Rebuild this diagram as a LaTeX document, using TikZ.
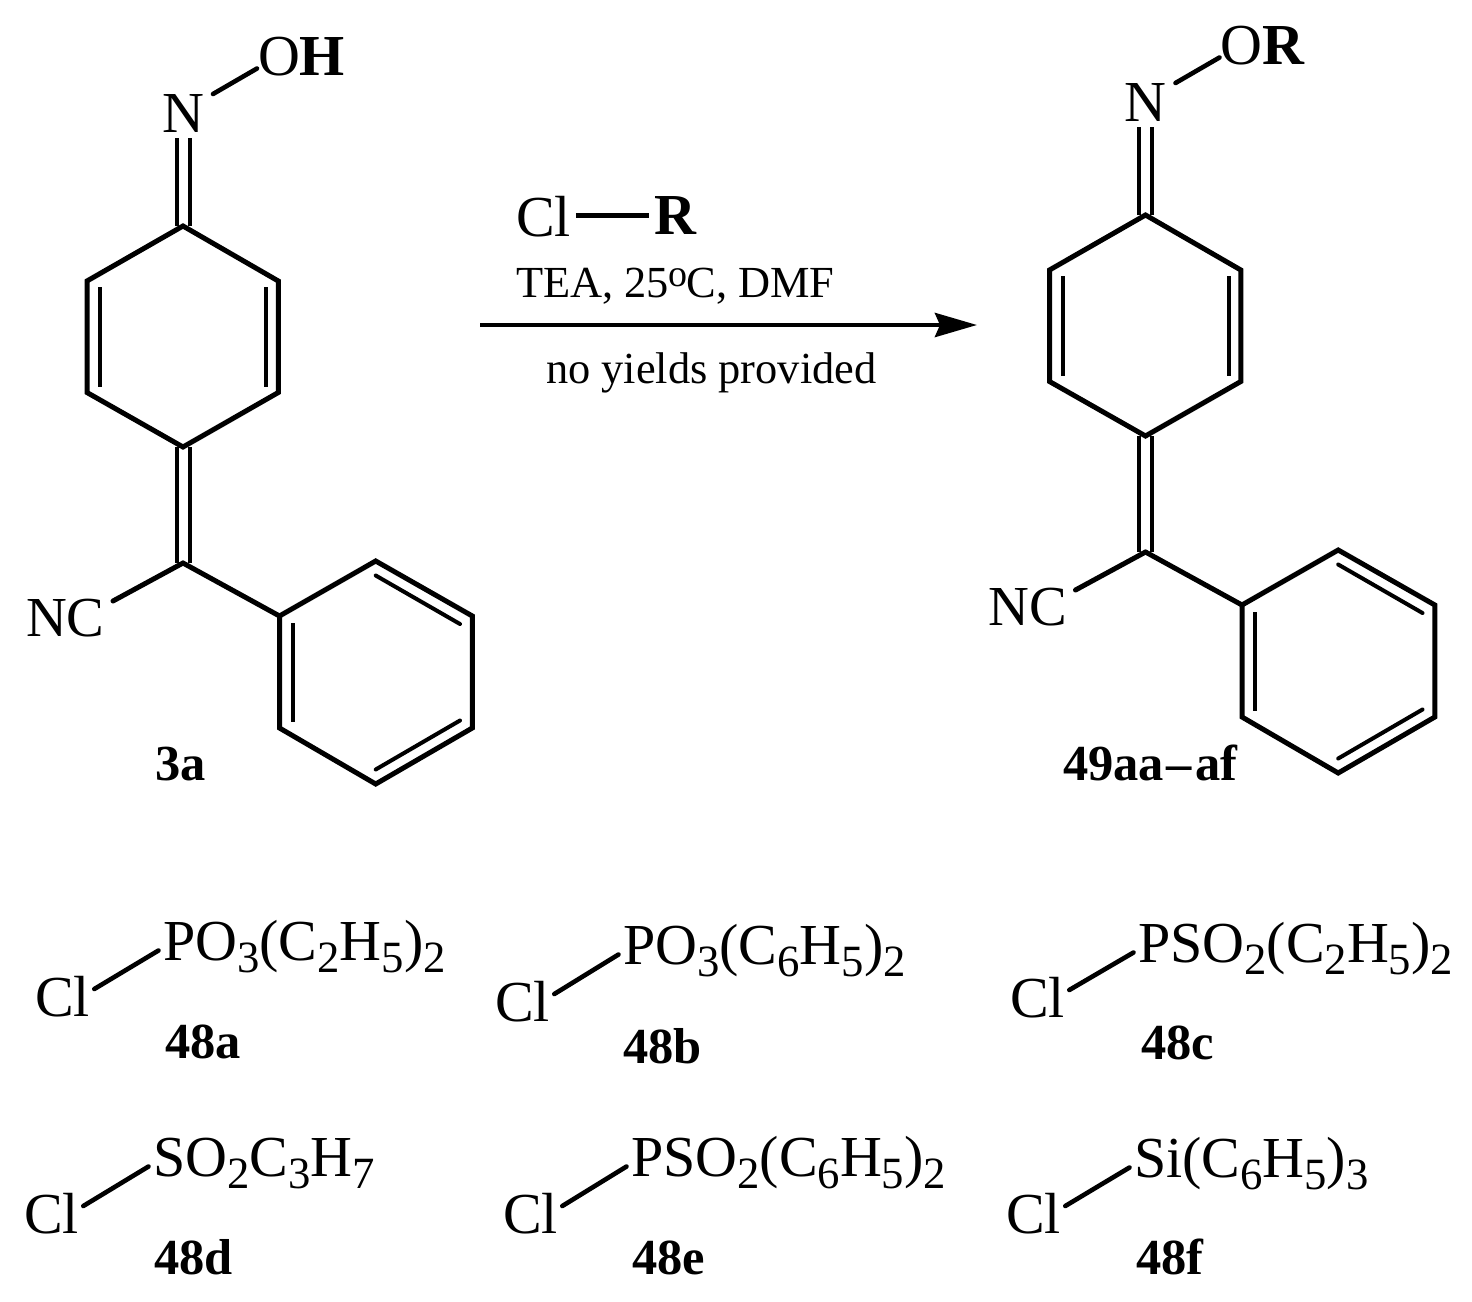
\documentclass[tikz,border=0pt]{standalone}
\usepackage{fontspec}
\setmainfont{Liberation Serif}
\usetikzlibrary{arrows.meta,calc}
\newcommand{\chemfs}{\fontsize{58}{60}\selectfont}
\newcommand{\ncfs}{\fontsize{56.5}{60}\selectfont}
\newcommand{\condfs}{\fontsize{44.4}{50}\selectfont}
\newcommand{\labfs}{\fontsize{50.5}{54}\selectfont\bfseries}
\newcommand{\sbs}[1]{\raisebox{-12pt}{\fontsize{44.7}{46}\selectfont #1}}
\tikzset{
  x=1pt,y=-1pt,
  bond/.style={line width=5pt,line cap=round,line join=miter,black},
  inner bond/.style={line width=4pt,line cap=butt,black},
  atom/.style={inner sep=0pt,outer sep=0pt,anchor=base,font=\chemfs},
  atomb/.style={inner sep=0pt,outer sep=0pt,anchor=base west,font=\chemfs},
  cmpd/.style={inner sep=0pt,outer sep=0pt,anchor=base west,font=\labfs},
  cond/.style={inner sep=0pt,outer sep=0pt,anchor=base west,font=\condfs},
}
\newcommand{\molecule}[4]{% prefix, xshift, yshift, substituent (bold)
\begin{scope}[shift={(#2,#3)},name prefix=#1-]
  \coordinate (a) at (183,226);
  \coordinate (b) at (278.3,281);
  \coordinate (c) at (278.3,392.5);
  \coordinate (d) at (183,447);
  \coordinate (e) at (87,392.5);
  \coordinate (f) at (87,281);
  \coordinate (g) at (183,563);
  \coordinate (p1) at (279.5,616);
  \coordinate (p2) at (375.7,561);
  \coordinate (p3) at (472.3,616);
  \coordinate (p4) at (472.3,728);
  \coordinate (p5) at (375.7,784);
  \coordinate (p6) at (279.5,728);
  \node[atom] (N) at (183,132) {N};
  \node[atomb] (O) at (258,75.5) {O};
  \node[atomb,font=\chemfs\bfseries] (S) at (O.base east) {#4};
  \node[atom,anchor=base east,font=\ncfs] (NC) at (104.5,636.5) {NC};
  \draw[bond] (a)--(b)--(c)--(d)--(e)--(f)--cycle;
  \draw[bond] (p1)--(p2)--(p3)--(p4)--(p5)--(p6)--cycle;
  \draw[bond] (g)--(p1);
  \draw[bond] ([shift={(8.5,-35.5)}]NC.base east)--(g);
  \draw[inner bond] ([shift={(-6.5,0)}]a) -- ([shift={(-6.5,6)}]N.base);
  \draw[inner bond] ([shift={(6.5,0)}]a) -- ([shift={(6.5,6)}]N.base);
  \draw[inner bond] ([shift={(-6.5,0)}]d) -- ([shift={(-6.5,0)}]g);
  \draw[inner bond] ([shift={(6.5,0)}]d) -- ([shift={(6.5,0)}]g);
  \draw[bond,line width=4.6pt] ([shift={(30,-38)}]N.base) -- ([shift={(-1,-7)}]O.base west);
  \draw[inner bond] ([shift={(13,6)}]f) -- ([shift={(13,-6)}]e);
  \draw[inner bond] ([shift={(-12.3,6)}]b) -- ([shift={(-12.3,-6)}]c);
  \draw[inner bond] ([shift={(13.2,7)}]p1) -- ([shift={(13.2,-6)}]p6);
  \draw[inner bond,line cap=round] ([shift={(0,14.5)}]p2) -- ([shift={(-12.3,8)}]p3);
  \draw[inner bond,line cap=round] ([shift={(0,-14.5)}]p5) -- ([shift={(-12.3,-7.5)}]p4);
\end{scope}}
\newcommand{\reagent}[9]{% name, Cl x, Cl y, text x, text y, text, label x, label y, label
\node[atomb] (#1-cl) at (#2,#3) {Cl};
\node[atomb] (#1-f) at (#4,#5) {#6};
\node[cmpd] (#1-n) at (#7,#8) {#9};
\draw[bond,line width=4.6pt] ([shift={(4.5,-27)}]#1-cl.base east) -- ([shift={(-4.5,-9.5)}]#1-f.base west);
}
\begin{document}
\begin{tikzpicture}
\useasboundingbox (0,0) rectangle (1472,1301);
\molecule{L}{0}{0}{H}
\molecule{R}{962.5}{-11}{R}
\node[cmpd] (n3a) at (155,780) {3a};
\node[cmpd] (n49) at (1063,780.5) {49aa\kern3pt–\kern3pt af};
\node[atomb] (rcl) at (516,236.5) {Cl};
\node[atomb,font=\chemfs\bfseries] (rr) at (654,234) {R};
\coordinate (rs) at ([shift={(5,-21)}]rcl.base east);
\draw[bond,line width=4.4pt,line cap=butt] (rs) -- ([xshift=-5pt]rr.west |- rs);
\node[cond] (c1) at (516,297) {TEA, 25\raisebox{10.5pt}{\fontsize{38}{40}\selectfont o}\kern-1.5pt C, DMF};
\node[cond] (c2) at (546,383) {no yields provided};
\coordinate (as) at (480,325);
\coordinate (ae) at (977,325);
\draw[line width=4.7pt,-{Stealth[length=42pt,width=24pt,inset=5pt]}] (as) -- (ae);
\reagent{a}{35}{1016}{163}{960}{PO\sbs{3}(C\sbs{2}H\sbs{5})\sbs{2}}{165}{1058}{48a}
\reagent{b}{495}{1021}{623}{964}{PO\sbs{3}(C\sbs{6}H\sbs{5})\sbs{2}}{623}{1063}{48b}
\reagent{c}{1010}{1017}{1138}{962}{PSO\sbs{2}(C\sbs{2}H\sbs{5})\sbs{2}}{1141}{1059}{48c}
\reagent{d}{24}{1233}{153}{1176}{SO\sbs{2}C\sbs{3}H\sbs{7}}{154}{1274}{48d}
\reagent{e}{503}{1233}{631}{1176}{PSO\sbs{2}(C\sbs{6}H\sbs{5})\sbs{2}}{632}{1274}{48e}
\reagent{f}{1006}{1233}{1134}{1177}{Si(C\sbs{6}H\sbs{5})\sbs{3}}{1136}{1274}{48f}
\end{tikzpicture}
\end{document}
